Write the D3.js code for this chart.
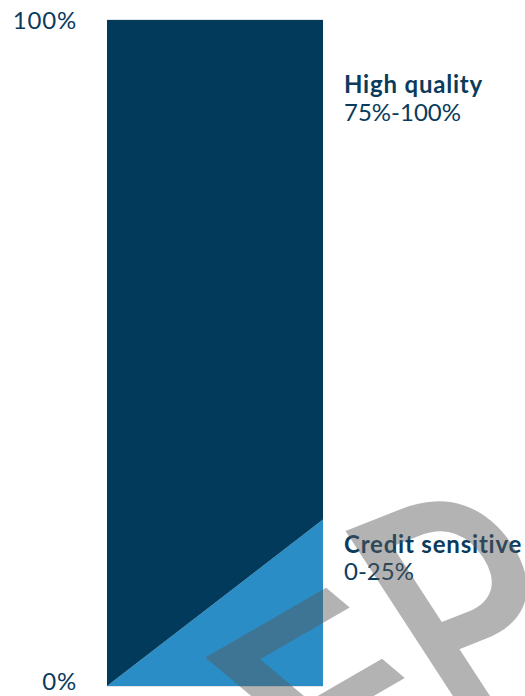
<!DOCTYPE html>
<html>
<head>
<meta charset="utf-8">
<script src="https://cdn.jsdelivr.net/npm/d3@7"></script>
<style>
  html, body { margin: 0; padding: 0; background: #ffffff; }
  svg { display: block; }
  text { font-family: Lato, "Noto Sans", sans-serif; }
</style>
</head>
<body>
<svg id="chart" width="525" height="696"></svg>
<script>
// Allocation range across the spectrum (left edge = minimum, right edge = maximum)
const positions = [0, 1];
const creditSensitive = [0, 25];
const highQuality = [100, 75];
const seriesNames = ["Credit sensitive", "High quality"];
const seriesRanges = ["0-25%", "75%-100%"];
const seriesColors = ["#2a8dc5", "#023a5b"];
const axisTicks = [0, 100];
const axisTickLabels = ["0%", "100%"];

const svg = d3.select("#chart");

const x = d3.scaleLinear().domain([0, 1]).range([107, 323]);
const y = d3.scaleLinear().domain([0, 100]).range([686, 20]);

const rows = positions.map((p, i) => ({
  pos: p,
  "Credit sensitive": creditSensitive[i],
  "High quality": highQuality[i]
}));
const stacked = d3.stack().keys(seriesNames)(rows);

// thin rules at both ends of the scale
svg.append("g")
  .selectAll("line")
  .data(axisTicks)
  .join("line")
  .attr("x1", x(0)).attr("x2", x(1))
  .attr("y1", d => y(d)).attr("y2", d => y(d))
  .attr("stroke", "#c5ccd2")
  .attr("stroke-width", 1);

const area = d3.area()
  .x(d => x(d.data.pos))
  .y0(d => y(d[0]))
  .y1(d => y(d[1]));

svg.append("g")
  .selectAll("path")
  .data(stacked)
  .join("path")
  .attr("fill", (d, i) => seriesColors[i])
  .attr("d", area);

// scale labels on the left
svg.append("g")
  .selectAll("text")
  .data(axisTicks)
  .join("text")
  .attr("x", 77)
  .attr("y", d => Math.min(y(d) + 8.5, 690))
  .attr("text-anchor", "end")
  .attr("font-size", 24)
  .attr("letter-spacing", 0.8)
  .attr("fill", "#0b3b5c")
  .text((d, i) => axisTickLabels[i]);

// series labels to the right of the bar
const labelAt = { "High quality": 89, "Credit sensitive": 20 };
const lab = svg.append("g")
  .selectAll("g")
  .data(seriesNames)
  .join("g")
  .attr("transform", d => `translate(344,${y(labelAt[d])})`);
lab.append("text")
  .attr("font-size", 24)
  .attr("font-weight", 700)
  .attr("letter-spacing", 0.8)
  .attr("fill", "#0b3b5c")
  .text(d => d);
lab.append("text")
  .attr("y", 27.5)
  .attr("font-size", 24)
  .attr("fill", "#0b3b5c")
  .text((d, i) => seriesRanges[i]);

// watermark, each letter slanted on its own
const marks = [
  { ch: "E", size: 300, t: "translate(352,810) matrix(0.866,-0.5,0.766,0.643,0,0)" },
  { ch: "P", size: 330, t: "translate(456,740) matrix(0.76,-0.30,0.545,0.838,0,0)" }
];
svg.append("g")
  .attr("opacity", 0.45)
  .selectAll("text")
  .data(marks)
  .join("text")
  .attr("transform", d => d.t)
  .attr("font-size", d => d.size)
  .attr("font-weight", 400)
  .attr("fill", "rgb(89,89,89)")
  .attr("stroke", "rgb(89,89,89)")
  .attr("stroke-width", 7)
  .text(d => d.ch);
</script>
</body>
</html>
